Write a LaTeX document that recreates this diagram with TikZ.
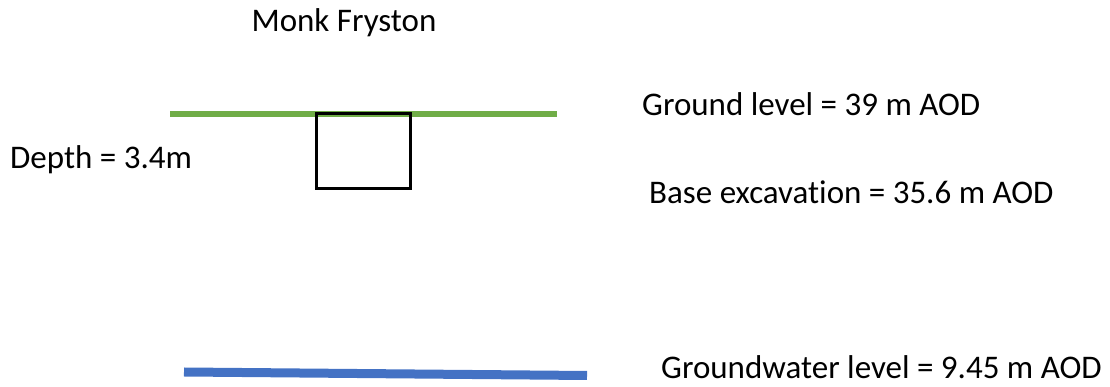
\documentclass[tikz,border=0pt]{standalone}
\usepackage{fontspec}
\setmainfont{Carlito}[Ligatures=NoCommon]
\usepackage{tikz}
\usetikzlibrary{positioning}

\begin{document}
\begin{tikzpicture}[
        x=1pt, y=1pt,
        txt/.style={
          inner sep=0pt,
          anchor=west,
          font=\fontsize{33}{40}\selectfont
        },
        groundline/.style={line width=6pt, draw={rgb,255:red,112;green,173;blue,71}},
        waterline/.style={line width=9pt, draw={rgb,255:red,68;green,114;blue,196}},
        pit/.style={
          rectangle,
          draw,
          line width=3pt,
          minimum width=94pt,
          minimum height=75pt,
          inner sep=0pt
        }
    ]
    \useasboundingbox (0,0) rectangle (1110,387);

    % Define the levels
    \coordinate (glL) at (170,273);
    \coordinate (glR) at (557,273);
    \coordinate (gwL) at (184,15);
    \coordinate (gwR) at (587,11.5);
    \draw[groundline] (glL) -- (glR);
    \draw[waterline] (gwL) -- (gwR);

    % The excavation
    \node[pit] (pit) at (363,235.5) {};

    % Labels
    \node[txt, anchor=center] (site) at (344,364) {Monk Fryston};
    \node[txt] (depth) at (10,227) {Depth = 3.4m};
    \node[txt] (ground) at (642,283) {Ground level = 39 m AOD};
    \node[txt] (base) at (649,195) {Base excavation = 35.6 m AOD};
    \node[txt] (water) at (661,20) {Groundwater level = 9.45 m AOD};
\end{tikzpicture}
\end{document}
